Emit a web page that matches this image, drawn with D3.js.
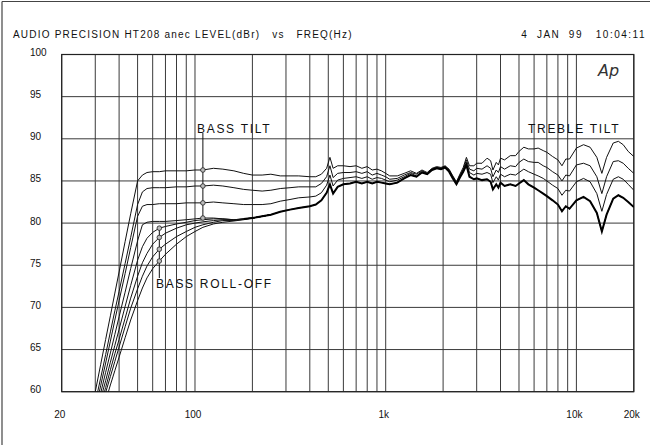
<!DOCTYPE html>
<html>
<head>
<meta charset="utf-8">
<script src="https://cdn.jsdelivr.net/npm/d3@7"></script>
<style>
	body { margin: 0; background: #fff; }
	svg { display: block; font-family: "Liberation Sans", Arial, sans-serif; }
</style>
</head>
<body>
<div id="chart"></div>
<script>
// frequency grid (Hz) shared by the reference and the tilt curves
var freqs = [28,30,32,34,36,38,40,43,46,50,53,56,60,65,70,80,90,100,110,125,140,160,180,200,225,250,280,
	315,350,400,430,460,490,510,530,560,600,650,700,750,800,850,900,950,1000,1050,1150,
	1250,1350,1450,1550,1650,1750,1850,1950,2050,2150,2250,2350,2450,2550,2650,2750,2900,3000,3200,3400,
	3550,3650,3800,3900,4000,4200,4500,4800,5000,5300,5600,6000,6300,6700,7000,7500,8000,8400,8800,9200,
	10000,10900,11800,12800,13600,14400,15600,16600,17600,18700,20000];

// reference response (dBr) - the heavy trace
var ref = [54.4,57.2,59.8,62.3,64.6,66.8,68.9,71.8,74.6,77.9,79.8,80.1,80.2,80.2,80.2,80.3,80.4,80.5,80.6,80.6,80.5,80.4,80.5,80.6,80.8,81.0,81.35,
	81.6,81.8,82.0,82.2,82.7,83.6,84.6,83.5,84.3,84.6,84.7,84.9,84.7,84.9,84.7,84.9,84.8,84.7,84.6,84.8,
	85.3,85.7,85.5,86.0,85.8,86.3,86.5,86.4,86.6,86.1,85.3,84.6,85.4,86.1,86.9,85.5,85.2,85.3,85.1,85.2,
	84.9,84.0,84.6,84.2,84.8,84.4,84.6,84.4,84.7,85.1,84.6,84.2,83.9,83.5,83.2,82.7,82.2,81.4,82.0,81.7,
	82.7,83.1,82.6,81.2,79.0,81.0,82.9,83.3,83.0,82.5,81.9];

// bass / treble tilt settings
var tilt1 = [56.6,60.0,63.2,66.2,69.0,71.7,74.2,77.8,81.1,85.0,85.7,86.0,86.1,86.1,86.2,86.2,86.2,86.3,86.3,86.5,86.4,86.2,85.9,85.7,85.7,85.8,85.6,
	85.6,85.6,85.5,85.5,85.8,86.5,87.8,86.5,86.8,86.8,86.7,86.8,86.5,86.7,86.3,86.4,86.2,85.9,85.6,85.6,
	85.9,86.2,85.9,86.3,86.0,86.5,86.7,86.6,86.8,86.4,85.6,84.9,85.8,86.6,87.8,86.8,86.8,87.1,87.1,87.7,
	87.4,86.3,87.2,86.9,87.7,87.5,88.0,88.0,88.5,89.0,88.8,88.8,88.9,88.6,88.4,87.9,87.5,86.8,87.6,87.6,
	88.9,89.3,89.0,87.8,85.9,87.8,89.5,89.7,89.3,88.5,87.9];
var tilt2 = [55.5,58.7,61.6,64.4,67.1,69.6,71.9,75.2,78.3,82.2,83.7,84.1,84.2,84.2,84.2,84.3,84.3,84.4,84.4,84.5,84.4,84.2,84.0,83.9,83.8,83.9,84.1,
	84.2,84.3,84.3,84.3,84.7,85.5,86.8,85.4,85.9,86.0,86.0,86.1,85.9,86.1,85.7,85.9,85.7,85.5,85.2,85.3,
	85.7,86.0,85.8,86.2,85.9,86.4,86.6,86.5,86.7,86.3,85.5,84.8,85.7,86.4,87.5,86.4,86.2,86.5,86.4,86.8,
	86.5,85.5,86.3,86.0,86.7,86.4,86.8,86.7,87.2,87.6,87.3,87.2,87.2,86.8,86.6,86.1,85.7,85.0,85.7,85.6,
	86.9,87.1,86.8,85.5,83.5,85.5,87.3,87.4,87.1,86.5,85.9];
var tilt3 = [54.7,57.8,60.7,63.4,66.0,68.5,70.8,74.0,77.1,80.8,82.0,82.2,82.2,82.3,82.3,82.3,82.4,82.4,82.4,82.5,82.4,82.3,82.2,82.2,82.2,82.3,82.6,
	82.8,83.0,83.1,83.2,83.6,84.5,85.7,84.4,85.1,85.3,85.4,85.5,85.3,85.5,85.2,85.4,85.3,85.1,84.9,85.1,
	85.5,85.9,85.6,86.1,85.9,86.4,86.6,86.5,86.7,86.2,85.4,84.7,85.5,86.3,87.2,86.0,85.7,85.9,85.8,86.0,
	85.8,84.8,85.5,85.1,85.8,85.5,85.8,85.7,86.0,86.4,86.1,85.8,85.6,85.3,85.0,84.5,84.1,83.3,83.9,83.8,
	84.9,85.3,84.9,83.5,81.4,83.4,85.2,85.5,85.2,84.6,83.9];

// bass roll-off settings (they join the reference above ~250 Hz)
var rollFreqs = [30,32,34,36,38,40,43,46,50,53,56,60,65,70,80,90,100,110,125,140,160,180,200,225,250];
var roll1 = [56.7,59.1,61.3,63.5,65.5,67.4,70.1,72.6,75.6,77.2,78.2,78.9,79.4,79.6,79.9,80.1,80.3,80.4,80.5,80.5,80.4,80.5,80.6,80.8,81.0];
var roll2 = [56.2,58.4,60.5,62.6,64.5,66.2,68.7,71.1,73.7,75.3,76.4,77.5,78.3,78.8,79.4,79.8,80.0,80.15,80.3,80.4,80.35,80.5,80.6,80.8,81.0];
var roll3 = [55.8,57.9,59.9,61.8,63.6,65.3,67.7,69.9,72.2,73.7,74.9,76.0,76.9,77.5,78.4,79.0,79.5,79.8,80.1,80.3,80.3,80.45,80.6,80.8,81.0];
var roll4 = [55.0,57.0,58.9,60.8,62.5,64.1,66.4,68.5,70.8,72.3,73.5,74.6,75.5,76.3,77.5,78.4,79.0,79.5,79.9,80.1,80.25,80.4,80.6,80.8,81.0];

var yTicks = [60,65,70,75,80,85,90,95,100];
var xLabelValues = [20,100,1000,10000,20000];
var xLabelText = ['20','100','1k','10k','20k'];
var tiltMarkFreq = 110;
var rollMarkFreq = 65;

var fullWidth = 650, fullHeight = 445;
var plotLeft = 61.7, plotRight = 633.8, plotTop = 54.5, plotBottom = 391.7;

var svg = d3.select('#chart')
	.append('svg')
	.attr('width', fullWidth)
	.attr('height', fullHeight);

var x = d3.scaleLog().domain([20, 20000]).range([plotLeft, plotRight]);
var y = d3.scaleLinear().domain([60, 100]).range([plotBottom, plotTop]);

// outer frame (top and left edges show)
svg.append('line').attr('x1', 2).attr('y1', 1.5).attr('x2', fullWidth).attr('y2', 1.5)
	.attr('stroke', '#444').attr('stroke-width', 1.2);
svg.append('line').attr('x1', 2).attr('y1', 1.5).attr('x2', 2).attr('y2', fullHeight)
	.attr('stroke', '#444').attr('stroke-width', 1.2);

// header
svg.append('text')
	.attr('x', 13).attr('y', 38)
	.attr('font-size', 10).attr('letter-spacing', 1.2).attr('fill', '#111')
	.attr('xml:space', 'preserve')
	.text('AUDIO PRECISION HT208 anec LEVEL(dBr)   vs   FREQ(Hz)');
svg.append('text')
	.attr('x', 646).attr('y', 38)
	.attr('text-anchor', 'end')
	.attr('font-size', 10).attr('letter-spacing', 1.5).attr('fill', '#111')
	.attr('xml:space', 'preserve')
	.text('4  JAN  99   10:04:11');

// grid
var grid = svg.append('g');
grid.selectAll('.vgrid')
	.data(x.ticks())
	.enter().append('line')
	.attr('class', 'vgrid')
	.attr('x1', function(d) { return x(d); })
	.attr('x2', function(d) { return x(d); })
	.attr('y1', plotTop).attr('y2', plotBottom)
	.attr('stroke', '#3a3a3a').attr('stroke-width', 1);
grid.selectAll('.hgrid')
	.data(yTicks)
	.enter().append('line')
	.attr('class', 'hgrid')
	.attr('x1', plotLeft).attr('x2', plotRight)
	.attr('y1', function(d) { return y(d); })
	.attr('y2', function(d) { return y(d); })
	.attr('stroke', '#3a3a3a').attr('stroke-width', 1);
grid.append('rect')
	.attr('x', plotLeft).attr('y', plotTop)
	.attr('width', plotRight - plotLeft).attr('height', plotBottom - plotTop)
	.attr('fill', 'none').attr('stroke', '#222').attr('stroke-width', 1.2);

// axis labels
svg.selectAll('.ylab')
	.data(yTicks)
	.enter().append('text')
	.attr('class', 'ylab')
	.attr('x', 30)
	.attr('y', function(d) { return y(d) + 1.5; })
	.attr('font-size', 10).attr('fill', '#111')
	.text(function(d) { return d; });
svg.selectAll('.xlab')
	.data(xLabelValues)
	.enter().append('text')
	.attr('class', 'xlab')
	.attr('x', function(d) { return x(d) - 2; })
	.attr('y', 418)
	.attr('text-anchor', 'middle')
	.attr('font-size', 10).attr('fill', '#111')
	.text(function(d, i) { return xLabelText[i]; });

// curves
svg.append('clipPath').attr('id', 'plot-clip')
	.append('rect')
	.attr('x', plotLeft).attr('y', plotTop)
	.attr('width', plotRight - plotLeft).attr('height', plotBottom - plotTop);

var curveLine = d3.line()
	.x(function(d) { return x(d[0]); })
	.y(function(d) { return y(d[1]); });

var curves = svg.append('g').attr('clip-path', 'url(#plot-clip)');

[roll1, roll2, roll3, roll4].forEach(function(s) {
	curves.append('path')
		.datum(d3.zip(rollFreqs, s))
		.attr('d', curveLine)
		.attr('fill', 'none').attr('stroke', '#111').attr('stroke-width', 1);
});
[tilt1, tilt2, tilt3, ref].forEach(function(s) {
	curves.append('path')
		.datum(d3.zip(freqs, s))
		.attr('d', curveLine)
		.attr('fill', 'none').attr('stroke', '#111').attr('stroke-width', 1);
});
// where the roll-off traces sit on the reference it reads as a heavy line
curves.append('path')
	.datum(d3.zip(freqs, ref).filter(function(d) { return d[0] >= 180; }))
	.attr('d', curveLine)
	.attr('fill', 'none').attr('stroke', '#000').attr('stroke-width', 2);

// annotations
var ti = freqs.indexOf(tiltMarkFreq);
var tiltMarks = [ref[ti], tilt3[ti], tilt2[ti], tilt1[ti]];
var ri = rollFreqs.indexOf(rollMarkFreq);
var rollMarks = [roll1[ri], roll2[ri], roll3[ri], roll4[ri]];

svg.append('line')
	.attr('x1', x(tiltMarkFreq)).attr('x2', x(tiltMarkFreq))
	.attr('y1', y(d3.min(tiltMarks))).attr('y2', 133)
	.attr('stroke', '#111').attr('stroke-width', 1);
svg.append('line')
	.attr('x1', x(rollMarkFreq)).attr('x2', x(rollMarkFreq))
	.attr('y1', y(d3.max(rollMarks))).attr('y2', 278)
	.attr('stroke', '#111').attr('stroke-width', 1);

svg.selectAll('.tmark')
	.data(tiltMarks.concat(rollMarks))
	.enter().append('circle')
	.attr('class', 'tmark')
	.attr('cx', function(d, i) { return x(i < 4 ? tiltMarkFreq : rollMarkFreq); })
	.attr('cy', function(d) { return y(d); })
	.attr('r', 2.3)
	.attr('fill', '#bbb').attr('stroke', '#222').attr('stroke-width', 0.8);

var notes = svg.append('g')
	.attr('font-size', 12).attr('fill', '#111').attr('letter-spacing', 1.7)
	.attr('xml:space', 'preserve');
notes.append('text').attr('x', 197).attr('y', 133).text('BASS  TILT');
notes.append('text').attr('x', 528).attr('y', 133).text('TREBLE  TILT');
notes.append('text').attr('x', 156).attr('y', 288).text('BASS  ROLL-OFF');

svg.append('text')
	.attr('x', 598).attr('y', 76)
	.attr('font-family', '"DejaVu Sans", sans-serif')
	.attr('font-size', 16).attr('font-style', 'italic').attr('font-weight', 200)
	.attr('fill', '#333')
	.text('Ap');
</script>
</body>
</html>
